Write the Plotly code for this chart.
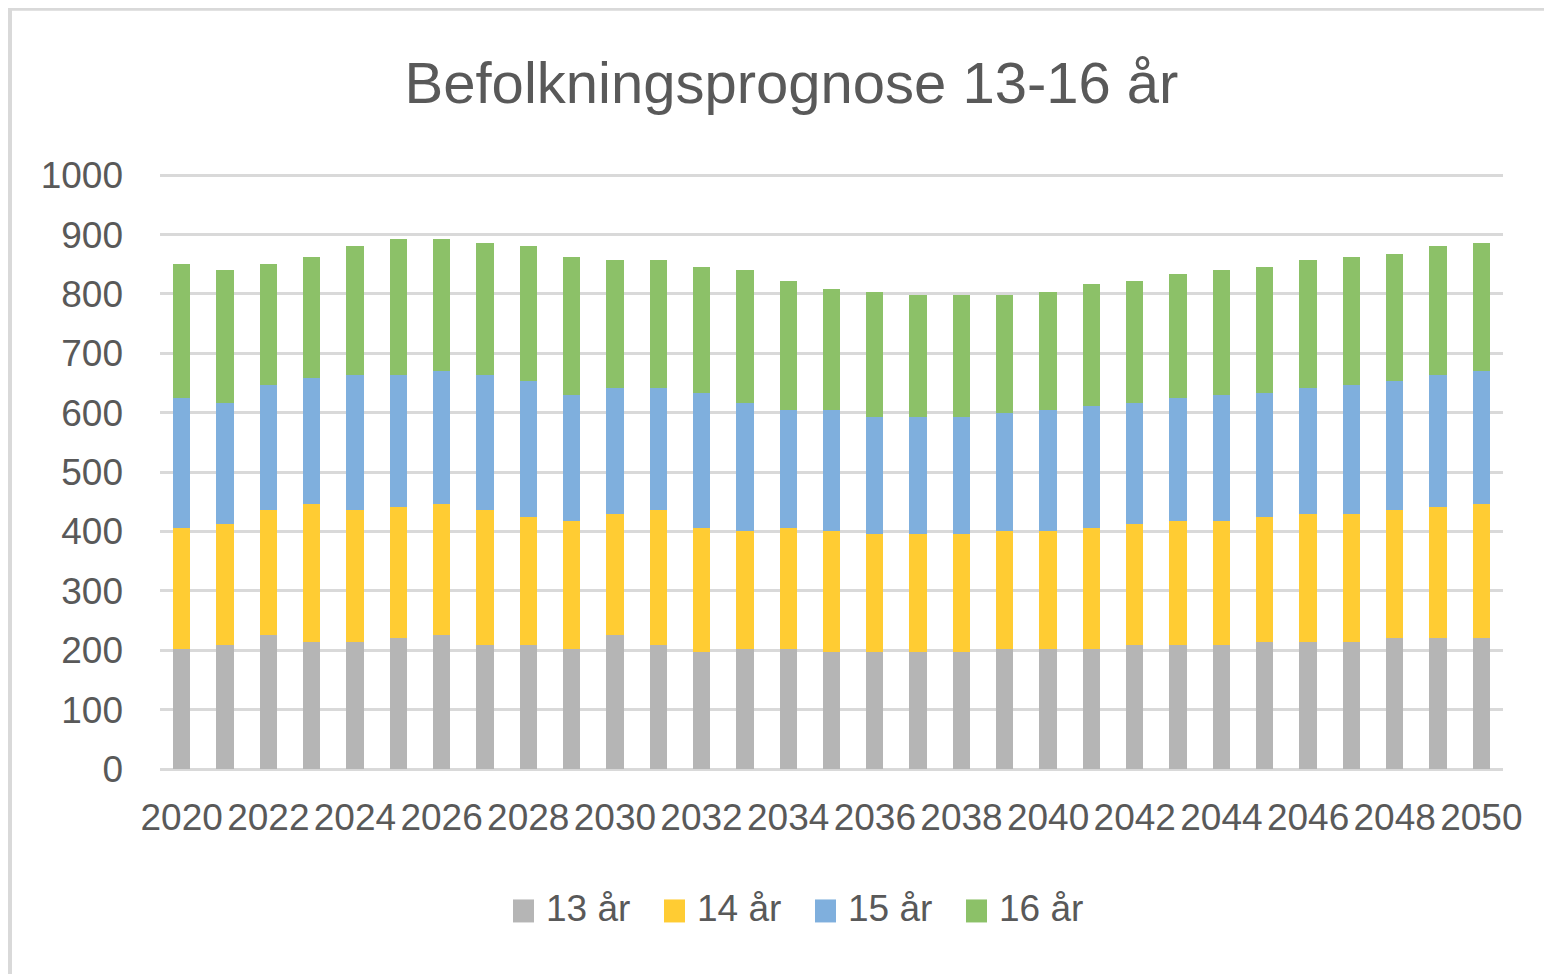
import plotly.graph_objects as go

years = list(range(2020, 2051))
tick_years = list(range(2020, 2051, 2))

age13 = [202, 209, 226, 214, 214, 221, 226, 209, 209, 202, 226, 209, 197, 202, 202, 197,
         197, 197, 197, 202, 202, 202, 209, 209, 209, 214, 214, 214, 221, 221, 221]
age14 = [204, 204, 210, 233, 222, 221, 221, 227, 216, 216, 204, 227, 209, 199, 204, 204,
         199, 199, 199, 199, 199, 204, 204, 209, 209, 211, 216, 216, 215, 221, 226]
age15 = [218, 204, 210, 211, 228, 222, 223, 228, 228, 211, 211, 205, 228, 216, 199, 204,
         197, 197, 197, 199, 204, 206, 204, 206, 211, 209, 211, 216, 217, 222, 223]
age16 = [226, 223, 204, 204, 216, 228, 222, 221, 227, 233, 216, 216, 211, 223, 216, 204,
         211, 206, 206, 199, 199, 204, 204, 209, 211, 211, 216, 216, 215, 216, 215]

series_names = ["13 år", "14 år", "15 år", "16 år"]
series_colors = ["#B5B5B5", "#FFCC33", "#7FAFDD", "#8CC168"]
series_values = [age13, age14, age15, age16]

FONT = "Liberation Sans, Arial, sans-serif"
TXT = "#595959"

# page is offset by the 8px default body margin
OFF = 8
W, H = 1552 - OFF, 974 - OFF
# plot area in page pixels
P_L, P_R, P_T, P_B = 160, 1503, 174.3, 769.5
L, R = P_L - OFF, (W + OFF) - P_R
T, B = P_T - OFF, (H + OFF) - P_B
pw, ph = W - L - R, H - T - B


def px_x(x):
    return (x - P_L) / pw


def px_y(y):
    return (P_B - y) / ph


fig = go.Figure()
for name, color, vals in zip(series_names, series_colors, series_values):
    fig.add_trace(go.Bar(x=years, y=vals, name=name, showlegend=False,
                         marker=dict(color=color, line=dict(width=0))))

# legend (drawn as squares + text), positions in page pixels
legend_sq_x = [513, 664, 815, 966]
shapes = [dict(type="rect", xref="paper", yref="paper",
               x0=px_x(10), x1=px_x(1600), y0=px_y(1000), y1=px_y(9),
               line=dict(color="#D9D9D9", width=4), fillcolor="rgba(0,0,0,0)", layer="below")]
annotations = []
for name, color, sx in zip(series_names, series_colors, legend_sq_x):
    shapes.append(dict(type="rect", xref="paper", yref="paper",
                       x0=px_x(sx), x1=px_x(sx + 21), y0=px_y(923), y1=px_y(900),
                       line=dict(width=0), fillcolor=color))
    annotations.append(dict(text=name, xref="paper", yref="paper", x=px_x(sx + 31),
                            y=px_y(909), xanchor="left", yanchor="middle", showarrow=False,
                            font=dict(size=37, color=TXT, family=FONT)))

fig.update_layout(
    width=W, height=H,
    barmode="stack", bargap=0.6,
    paper_bgcolor="white", plot_bgcolor="white",
    margin=dict(l=L, r=R, t=T, b=B, autoexpand=False),
    font=dict(family=FONT, color=TXT, size=37),
    showlegend=False,
    title=dict(text="Befolkningsprognose 13-16 år", x=(791.5 - OFF) / W, xanchor="center",
               xref="container", y=1 - (83 - OFF) / H, yanchor="middle", yref="container",
               font=dict(size=58, color=TXT, family=FONT)),
    xaxis=dict(range=[2019.5, 2050.5], tickmode="array", tickvals=tick_years,
               ticktext=[str(y) for y in tick_years], tickangle=0,
               showgrid=False, zeroline=False, showline=False, ticks="",
               ticklabelstandoff=23, tickfont=dict(size=37, color=TXT, family=FONT)),
    yaxis=dict(range=[0, 1002], tickmode="linear", tick0=0, dtick=100,
               showgrid=True, gridcolor="#D9D9D9", gridwidth=3,
               zeroline=True, zerolinecolor="#D9D9D9", zerolinewidth=3,
               showline=False, ticks="", ticklabelstandoff=36,
               tickfont=dict(size=37, color=TXT, family=FONT)),
    shapes=shapes,
    annotations=annotations,
)

fig.write_html("out.html")
